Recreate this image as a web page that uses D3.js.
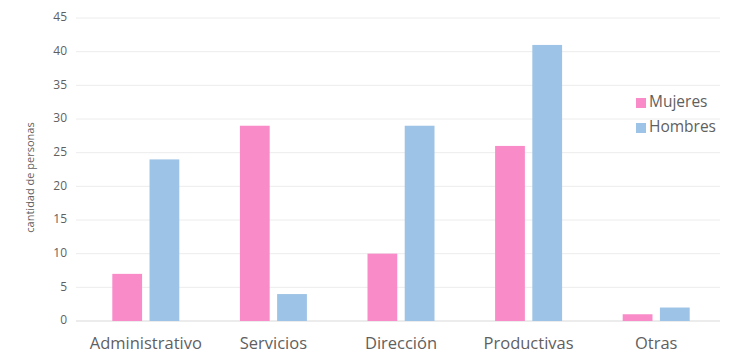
<!DOCTYPE html>
<html lang="es">
<head>
  <meta charset="UTF-8">
  <title>cantidad de personas</title>
  <style>
    body { margin:0; background:#fff; overflow:hidden; }
    #chart { display:block; }
    text { font-family: "Open Sans", Lato, sans-serif; fill:#5f5f5f; }
  </style>
</head>
<body>
  <svg id="chart" width="730" height="354"></svg>
  <script src="https://d3js.org/d3.v7.min.js"></script>
  <script>
    const categories = ['Administrativo', 'Servicios', 'Dirección', 'Productivas', 'Otras'];
    const series = ['Mujeres', 'Hombres'];
    const mujeres = [7, 29, 10, 26, 1];
    const hombres = [24, 4, 29, 41, 2];
    const yTicks = [0, 5, 10, 15, 20, 25, 30, 35, 40, 45];
    const colors = ['#F98BC9', '#9DC3E6'];

    const svg = d3.select('#chart');
    const plotL = 82, plotR = 720, plotT = 18, plotB = 321;

    const rows = categories.map((c, i) => ({ cat: c, values: [mujeres[i], hombres[i]] }));

    const x0 = d3.scaleBand().domain(categories).range([plotL, plotR])
      .paddingInner(0.475).paddingOuter(0.2375);
    const x1 = d3.scaleBand().domain(series).range([0, x0.bandwidth()]).paddingInner(0.2);
    const y = d3.scaleLinear().domain([0, 45]).range([plotB, plotT]);

    // gridlines
    svg.append('g').selectAll('line').data(yTicks).join('line')
      .attr('x1', 76).attr('x2', plotR)
      .attr('y1', d => y(d)).attr('y2', d => y(d))
      .attr('stroke', d => d === 0 ? '#d9d9d9' : '#ececec')
      .attr('stroke-width', 1);

    // y tick labels
    svg.append('g').selectAll('text').data(yTicks).join('text')
      .attr('x', 67).attr('y', d => y(d))
      .attr('text-anchor', 'end').attr('dominant-baseline', 'middle')
      .style('font-size', '12px')
      .text(d => d);

    // y title
    svg.append('text')
      .attr('transform', `translate(34,${(plotT + plotB) / 2 + 8}) rotate(-90)`)
      .attr('text-anchor', 'middle')
      .style('font-size', '11px')
      .text('cantidad de personas');

    // bars
    const groups = svg.append('g').selectAll('g').data(rows).join('g')
      .attr('transform', d => `translate(${x0(d.cat)},0)`);
    groups.selectAll('rect').data(d => d.values.map((v, i) => ({ s: series[i], v, i })))
      .join('rect')
      .attr('x', d => x1(d.s))
      .attr('width', x1.bandwidth())
      .attr('y', d => y(d.v))
      .attr('height', d => y(0) - y(d.v))
      .attr('fill', d => colors[d.i]);

    // x labels
    svg.append('g').selectAll('text').data(categories).join('text')
      .attr('x', d => x0(d) + x0.bandwidth() / 2)
      .attr('y', 349)
      .attr('text-anchor', 'middle')
      .style('font-size', '16.5px')
      .text(d => d);

    // legend
    const legend = svg.append('g').selectAll('g').data(series).join('g')
      .attr('transform', (d, i) => `translate(636,${103 + i * 25})`);
    legend.append('rect').attr('x', 0).attr('y', -5).attr('width', 10).attr('height', 10)
      .attr('fill', (d, i) => colors[i]);
    legend.append('text').attr('x', 13).attr('y', 0)
      .attr('dominant-baseline', 'middle')
      .style('font-size', '15.5px')
      .text(d => d);
  </script>
</body>
</html>
